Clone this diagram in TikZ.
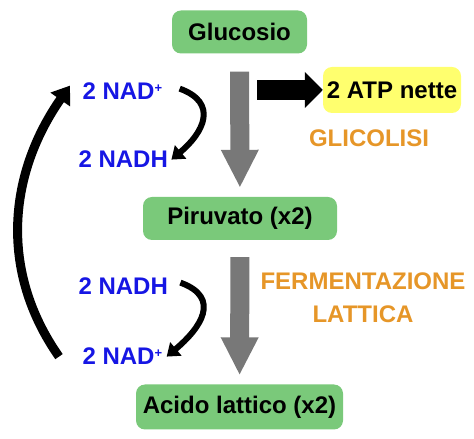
\documentclass[tikz,border=0pt]{standalone}
\usepackage{fontspec}
\setmainfont{Liberation Sans}
\usetikzlibrary{arrows.meta}
\definecolor{boxgreen}{RGB}{122,201,122}
\definecolor{atpyellow}{RGB}{255,255,110}
\definecolor{nadblue}{RGB}{22,22,228}
\definecolor{phaseorange}{RGB}{230,150,40}
\definecolor{flowgray}{RGB}{120,120,120}
\newcommand{\plusion}{\raisebox{7pt}{\fontsize{13}{13}\selectfont +}}
\begin{document}
\begin{tikzpicture}[x=1pt, y=1pt,
    every node/.style={font=\fontsize{24}{33}\selectfont\bfseries},
    stage/.style={fill=boxgreen, rounded corners=9pt, minimum height=43pt},
    nad/.style={text=nadblue, anchor=base west},
    phase/.style={text=phaseorange, align=center, anchor=base},
    flow/.style={draw=flowgray, line width=19pt, -{Triangle[width=35pt,length=38pt]}},
    loop/.style={line width=6pt, -{Triangle[width=17pt,length=12pt]}}]
  \useasboundingbox (0,0) rectangle (474,439);
  % boxes
  \node[stage, minimum width=135pt] (gluc) at (239.5,407) {Glucosio};
  \node[stage, minimum width=194pt] (piru) at (240,220.5) {Piruvato (x2)};
  \node[stage, minimum width=207pt, minimum height=45pt] (acido) at (239.5,32) {Acido lattico (x2)};
  \node[fill=atpyellow, rounded corners=9pt, minimum width=138pt, minimum height=46pt] (atp) at (392,349) {2 ATP nette};
  % cofactors
  \node[nad] (nadA) at (79,339) {2 NAD\plusion};
  \node[nad] (nadhA) at (75,271) {2 NADH};
  \node[nad] (nadhB) at (75,144) {2 NADH};
  \node[nad] (nadB) at (79,74) {2 NAD\plusion};
  \node[phase] (glico) at (369,292) {GLICOLISI};
  \node[phase] (ferm) at (363,116) {FERMENTAZIONE\\LATTICA};
  % arrows
  \draw[flow, shorten <=18pt, shorten >=9pt] (gluc) -- (piru);
  \draw[flow, shorten <=17pt, shorten >=9pt] (piru) -- (acido);
  \coordinate (atpstart) at (257,349);
  \draw[line width=20pt, -{Triangle[width=35pt,length=18pt]}] (atpstart) -- (atp.west);
  \draw[loop] ([xshift=14pt,yshift=3pt]nadA.east) to[out=-20, in=40, looseness=1.5] (nadhA.east);
  \draw[loop] ([xshift=9pt,yshift=4pt]nadhB.east) to[out=-20, in=40, looseness=1.5] ([xshift=1pt]nadB.east);
  \draw[line width=9pt, -{Triangle[width=23pt,length=17pt]}] ([xshift=-20pt]nadB.west) to[out=125, in=-125] ([xshift=-9pt,yshift=6pt]nadA.west);
\end{tikzpicture}
\end{document}
